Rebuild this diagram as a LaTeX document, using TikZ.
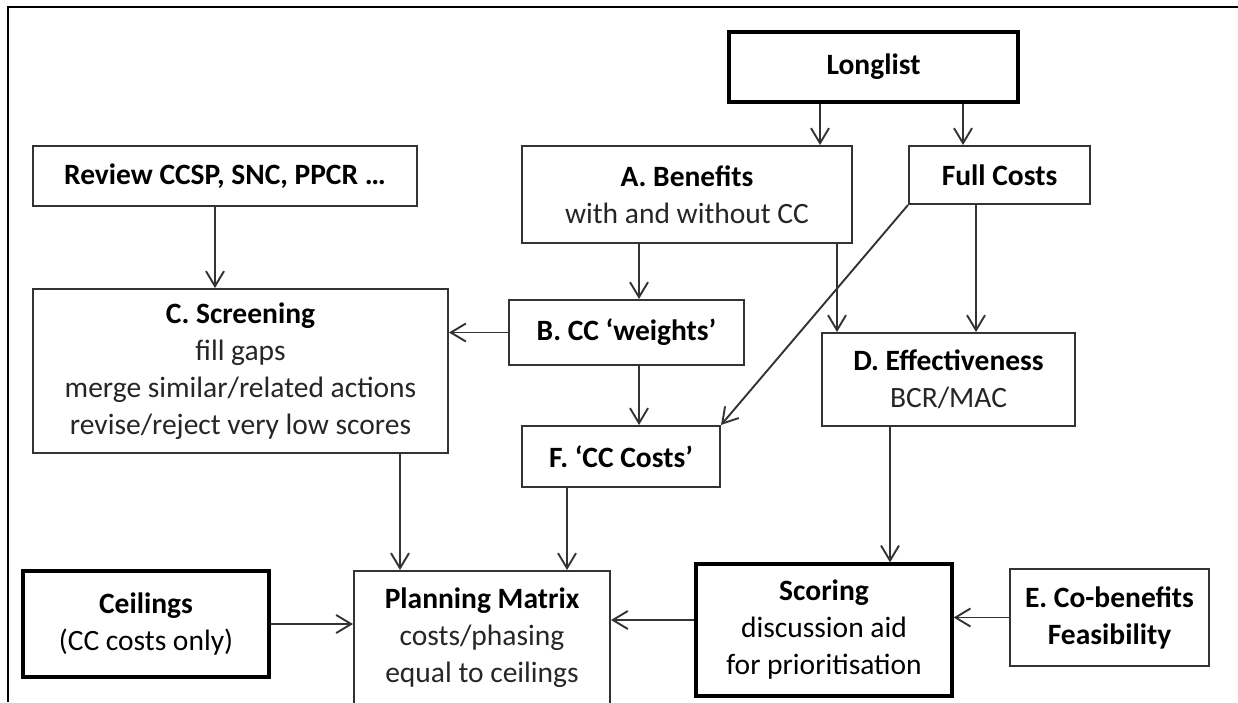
\documentclass[tikz,border=0pt]{standalone}
\usepackage{fontspec}
\setmainfont{Carlito}
\usetikzlibrary{arrows.meta}

\definecolor{linegray}{HTML}{333333}
\definecolor{textgray}{HTML}{262626}
\newcommand{\boxhead}[1]{\textbf{\color{black}#1}}

\begin{document}
\begin{tikzpicture}[
    x = 1pt, y = -1pt, % one unit per pixel, y downwards
    > = {Straight Barb[length=15pt,width=18pt]}, % open arrow head
    line width = 1.9pt, % connector lines
    draw = linegray,
    font = \fontsize{29.5}{37}\selectfont
    ]

    \tikzset{box/.style={
    draw = linegray,
    line width = 2pt,
    fill = white,
    text = textgray,
    align = center,
    inner sep = 0pt
    }}
    \tikzset{keybox/.style={
    box,
    draw = black,
    line width = 3.2pt,
    text = black
    }}

    \useasboundingbox (0,0) rectangle (1238,702);
    \clip (0,0) rectangle (1238,702);
    \draw[line width=2pt, black] (8,702) -- (8,7) -- (1238,7);

    % top row
    \node[keybox, minimum width=289pt, minimum height=70pt] (longlist) at (873.5,67) {\boxhead{Longlist}};
    \node[box, minimum width=330pt, minimum height=97pt] (benefits) at (687,194.5) {\boxhead{A. Benefits}\\with and without CC};
    \node[box, minimum width=181pt, minimum height=58pt] (fullcost) at (999.5,175) {\boxhead{Full Costs}};
    \node[box, minimum width=384pt, minimum height=60pt] (review) at (225,176) {\boxhead{Review CCSP, SNC, PPCR …}};

    % middle
    \node[box, minimum width=415pt, minimum height=164pt] (screening) at (240.5,371) {\boxhead{C. Screening}\\fill gaps\\merge similar/related actions\\revise/reject very low scores};
    \node[box, minimum width=235pt, minimum height=65pt] (weights) at (626.5,332.5) {\boxhead{B. CC ‘weights’}};
    \node[box, minimum width=253pt, minimum height=93pt] (effective) at (948.5,379.5) {\boxhead{D. Effectiveness}\\BCR/MAC};
    \node[box, minimum width=198pt, minimum height=61pt] (cccost) at (621,456.5) {\boxhead{F. ‘CC Costs’}};

    % bottom row
    \node[keybox, minimum width=246pt, minimum height=106pt] (ceilings) at (146,624) {\boxhead{Ceilings}\\(CC costs only)};
    \node[box, minimum width=256pt, minimum height=134pt] (matrix) at (482,638) {\boxhead{Planning Matrix}\\costs/phasing\\equal to ceilings};
    \node[keybox, minimum width=256pt, minimum height=132pt] (scoring) at (824,630) {\boxhead{Scoring}\\discussion aid\\for prioritisation};
    \node[box, minimum width=199pt, minimum height=97pt] (cobenefit) at (1109.5,617.5) {\boxhead{E. Co-benefits}\\\boxhead{Feasibility}};

    % connectors
    \coordinate (ll1) at ([xshift=-53.5pt]longlist.south);
    \coordinate (ll2) at ([xshift=89.5pt]longlist.south);
    \coordinate (rv) at ([xshift=-10pt]review.south);
    \coordinate (ab) at ([xshift=-48pt]benefits.south);
    \coordinate (ad) at ([xshift=150pt]benefits.south);
    \coordinate (fd) at ([xshift=-23.5pt]fullcost.south);
    \coordinate (bf) at ([xshift=12.5pt]weights.south);
    \coordinate (ds) at ([xshift=-58.5pt]effective.south);
    \coordinate (cm) at ([xshift=159.5pt]screening.south);
    \coordinate (fm) at ([xshift=-54pt]cccost.south);
    \coordinate (sm) at ([yshift=10pt]scoring.west);

    \draw[->] (ll1) -- (ll1 |- benefits.north);
    \draw[->] (ll2) -- (ll2 |- fullcost.north);
    \draw[->] (rv) -- (rv |- screening.north);
    \draw[->] (weights.west) -- (weights.west -| screening.east);
    \draw[->] (ab) -- (ab |- weights.north);
    \draw[->] (ad) -- (ad |- effective.north);
    \draw[->] (fd) -- (fd |- effective.north);
    \draw[->] (fullcost.south west) -- (cccost.north east);
    \draw[->] (bf) -- (bf |- cccost.north);
    \draw[->] (ds) -- (ds |- scoring.north);
    \draw[->] (cm) -- (cm |- matrix.north);
    \draw[->] (fm) -- (fm |- matrix.north);
    \draw[->] (ceilings.east) -- (ceilings.east -| matrix.west);
    \draw[->] (sm) -- (sm -| matrix.east);
    \draw[->] (cobenefit.west) -- (cobenefit.west -| scoring.east);
\end{tikzpicture}
\end{document}
